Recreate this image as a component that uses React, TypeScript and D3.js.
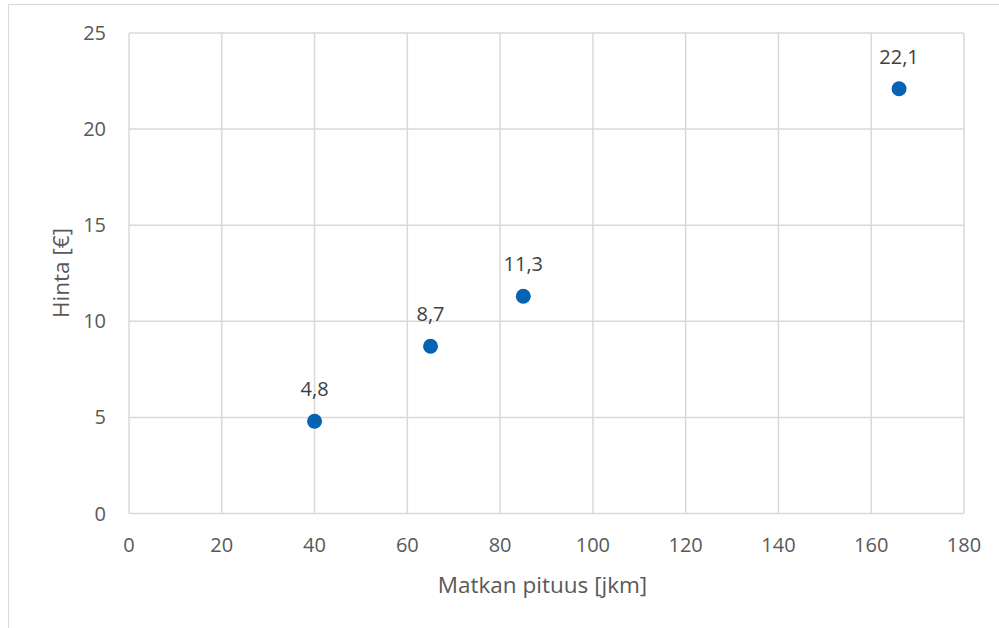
import React from "react";
import * as d3 from "d3";

// Trip length (km) and price (€)
const distances = [40, 65, 85, 166];
const prices = [4.8, 8.7, 11.3, 22.1];
const xTicks = [0, 20, 40, 60, 80, 100, 120, 140, 160, 180];
const yTicks = [0, 5, 10, 15, 20, 25];

const W = 999;
const H = 628;
const plot = { left: 129, right: 964, top: 33, bottom: 513.5 };
const font = "'Open Sans', 'Segoe UI', sans-serif";

const fmt = (v: number) => String(v).replace(".", ",");

export default function App() {
  const x = d3.scaleLinear().domain([0, 180]).range([plot.left, plot.right]);
  const y = d3.scaleLinear().domain([0, 25]).range([plot.bottom, plot.top]);

  return (
    <svg
      width={W}
      height={H}
      style={{ position: "absolute", left: 0, top: 0, background: "#fff" }}
    >
      <rect x={8.5} y={4.5} width={W + 20} height={H + 20} fill="#fff" stroke="#d9d9d9" strokeWidth={1} />

      {/* grid */}
      {xTicks.map((t) => (
        <line key={"gx" + t} x1={x(t)} x2={x(t)} y1={plot.top} y2={plot.bottom} stroke="#d9d9d9" strokeWidth={1.5} />
      ))}
      {yTicks.map((t) => (
        <line key={"gy" + t} x1={plot.left} x2={plot.right} y1={y(t)} y2={y(t)} stroke="#d9d9d9" strokeWidth={1.5} />
      ))}

      {/* tick labels */}
      {yTicks.map((t) => (
        <text key={"ty" + t} x={106} y={y(t)} dy="0.35em" textAnchor="end" fontFamily={font} fontSize={20} fill="#595959">
          {t}
        </text>
      ))}
      {xTicks.map((t) => (
        <text key={"tx" + t} x={x(t)} y={545} dy="0.35em" textAnchor="middle" fontFamily={font} fontSize={20} fill="#595959">
          {t}
        </text>
      ))}

      {/* axis titles */}
      <text x={542.5} y={585} dy="0.35em" textAnchor="middle" fontFamily={font} fontSize={22.5} fill="#595959">
        Matkan pituus [jkm]
      </text>
      <text
        transform={`translate(61, 273) rotate(-90)`}
        dy="0.35em"
        textAnchor="middle"
        fontFamily={font}
        fontSize={22.5}
        fill="#595959"
      >
        Hinta [€]
      </text>

      {/* points with value labels */}
      {distances.map((d, i) => (
        <g key={"p" + i}>
          <circle cx={x(d)} cy={y(prices[i])} r={7.5} fill="#0563b4" />
          <text x={x(d)} y={y(prices[i]) - 32} dy="0.35em" textAnchor="middle" fontFamily={font} fontSize={20} fill="#404040">
            {fmt(prices[i])}
          </text>
        </g>
      ))}
    </svg>
  );
}
